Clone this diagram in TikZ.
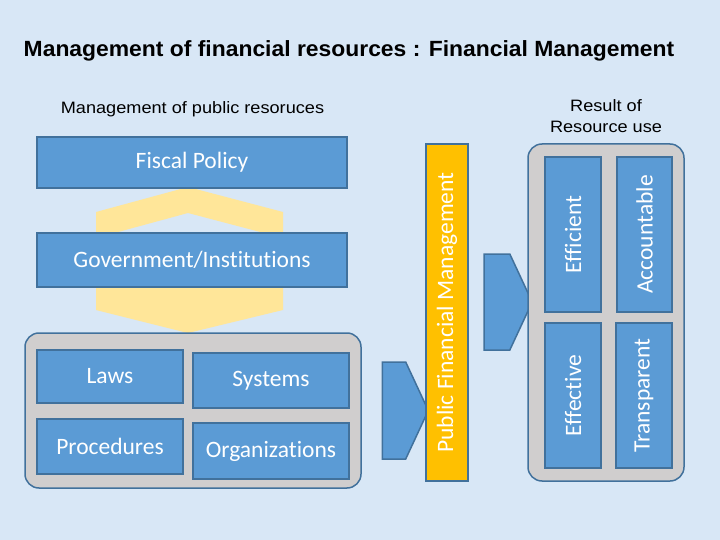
\documentclass[tikz,border=0pt]{standalone}
\usepackage{fontspec}
\setmainfont[Ligatures=NoCommon]{Carlito}
\newfontfamily\titlefont[FakeStretch=1.04]{Liberation Sans}
\newfontfamily\arialfont[FakeStretch=1.1]{Liberation Sans}
\usetikzlibrary{shapes.symbols}
\definecolor{bgblue}{RGB}{216,231,246}
\definecolor{boxblue}{RGB}{91,155,213}
\definecolor{edgeblue}{RGB}{65,113,156}
\definecolor{chevyellow}{RGB}{255,230,153}
\definecolor{barorange}{RGB}{255,192,0}
\definecolor{panelgray}{RGB}{208,206,206}
\tikzstyle{block} = [rectangle, draw=edgeblue, line width=1.5pt, fill=boxblue, text=white, font=\fontsize{23.5}{28}\selectfont, inner sep=0pt]
\tikzstyle{upright} = [block, rotate=90]
\tikzstyle{bar} = [upright, fill=barorange]
\tikzstyle{panel} = [rectangle, rounded corners=14pt, draw=edgeblue, line width=1.5pt, fill=panelgray, inner sep=0pt]
\tikzstyle{pointer} = [signal, signal to=east, signal pointer angle=130, draw=edgeblue, line width=1.5pt, fill=boxblue, inner sep=0pt]
\tikzstyle{heading} = [font=\arialfont\fontsize{16.5}{21}\selectfont, align=center, anchor=base]
\tikzstyle{chevron} = [fill=chevyellow]

\begin{document}
\begin{tikzpicture}[x=1pt, y=-1pt]
    \fill [bgblue] (0,0) rectangle (720,540);

    \node (title) [heading, font=\titlefont\bfseries\fontsize{22}{26}\selectfont] at (349,57) {Management of financial resources : Financial Management};
    \node (public) [heading] at (192.5,114) {Management of public resoruces};
    \node (result) [heading] at (606,133) {Result of\\Resource use};

    % yellow chevrons behind Government/Institutions
    \path [chevron] (96,212) -- (188,187) -- (283,212) -- (283,238) -- (188,213) -- (96,238) -- cycle;
    \path [chevron] (96,257) -- (188,280) -- (283,257) -- (283,310) -- (188,333) -- (96,310) -- cycle;

    \node (fiscal) [block, minimum width=310, minimum height=51] at (192,162.5) {Fiscal Policy};
    \node (gov) [block, minimum width=310, minimum height=54] at (192,260) {Government/Institutions};

    \node (leftpanel) [panel, minimum width=336, minimum height=155] at (193,410.5) {};
    \node (laws) [block, minimum width=146, minimum height=53] at (110,376.5) {Laws};
    \node (systems) [block, minimum width=156, minimum height=55] at (271,380.5) {Systems};
    \node (procedures) [block, minimum width=146, minimum height=55] at (110,446.5) {Procedures};
    \node (orgs) [block, minimum width=156, minimum height=56] at (271,451) {Organizations};

    \node (arrowin) [pointer, minimum width=46, minimum height=97] at (394,410.5) {};
    \node (pfm) [bar, minimum width=337, minimum height=42] at (447,312.5) {Public Financial Management};
    \node (arrowout) [pointer, minimum width=48, minimum height=96] at (497,302) {};

    \node (rightpanel) [panel, minimum width=156, minimum height=337] at (606,312.5) {};
    \node (efficient) [upright, minimum width=155, minimum height=56] at (573,234.5) {Efficient};
    \node (accountable) [upright, minimum width=155, minimum height=55] at (644.5,234.5) {Accountable};
    \node (effective) [upright, minimum width=145, minimum height=56] at (573,395.5) {Effective};
    \node (transparent) [upright, minimum width=145, minimum height=56] at (644,395.5) {Transparent};
\end{tikzpicture}
\end{document}
